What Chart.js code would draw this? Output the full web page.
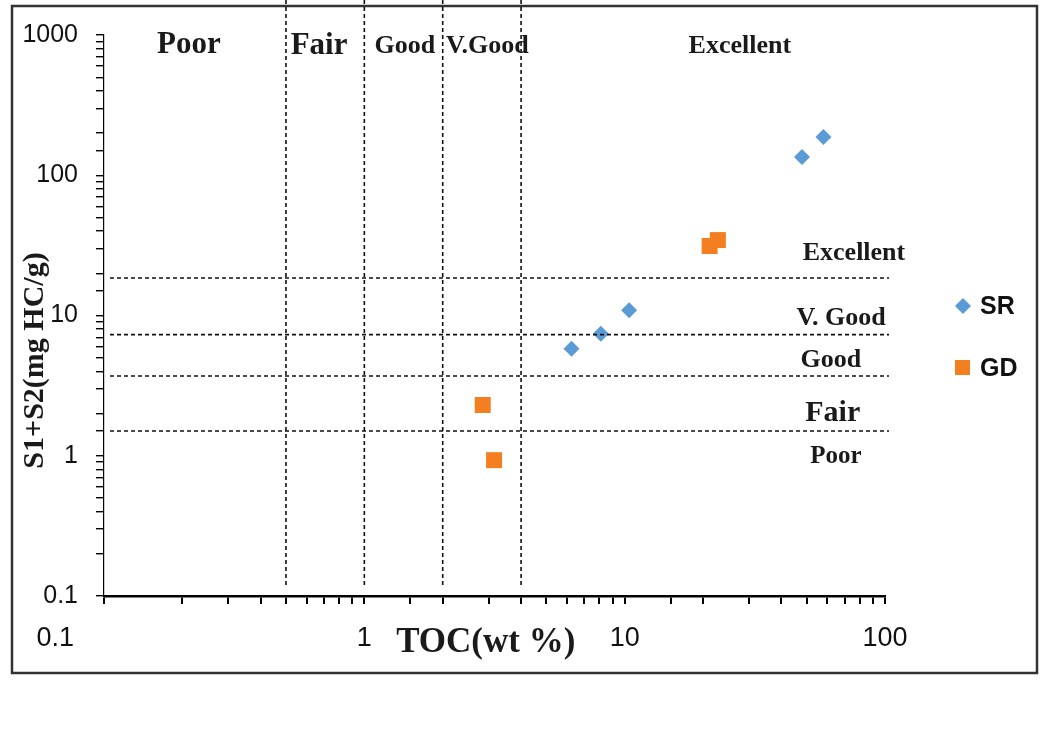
<!DOCTYPE html>
<html>
<head>
<meta charset="utf-8">
<script src="https://cdn.jsdelivr.net/npm/chart.js@4.4.1/dist/chart.umd.min.js"></script>
<style>
html,body{margin:0;padding:0;background:#fff}
</style>
</head>
<body>
<canvas id="rockEval" width="1051" height="740"></canvas>
<script>
//muestras SR: TOC (wt %) y S1+S2 (mg HC/g)
const srToc = [6.25, 8.1, 10.4, 48, 58]
const srS1S2 = [5.8, 7.4, 10.9, 135, 187]

//muestras GD
const gdToc = [21.2, 22.8, 2.85, 3.15]
const gdS1S2 = [31.3, 34.5, 2.3, 0.93]

//limites de calidad tal como estan dibujados
const tocLimits = [0.5, 1, 2, 4]
const s1s2Limits = [18.5, 7.3, 3.7, 1.5]

//etiquetas de los ejes
const xTickLabels = ['0.1', '1', '10', '100']
const yTickLabels = ['0.1', '1', '10', '100', '1000']

//nombres de las zonas
const tocZoneNames = ['Poor', 'Fair', 'Good', 'V.Good', 'Excellent']
const s1s2ZoneNames = ['Excellent', 'V. Good', 'Good', 'Fair', 'Poor']

//donde va cada nombre (en unidades de los ejes) y su tamaño
const tocZoneSpots = [
    {x: 0.212, y: 850, size: 31},
    {x: 0.67, y: 830, size: 31},
    {x: 1.43, y: 830, size: 26},
    {x: 2.97, y: 830, size: 26},
    {x: 27.7, y: 830, size: 26}
]
const s1s2ZoneSpots = [
    {x: 76, y: 27.9, size: 26},
    {x: 67.8, y: 9.6, size: 26},
    {x: 62, y: 4.82, size: 26},
    {x: 63, y: 2.02, size: 30},
    {x: 64.8, y: 0.98, size: 25}
]

const blue = '#5b9bd5'
const orange = '#f37f21'

function toPoints(xs, ys){
    return xs.map((v, i) => ({x: v, y: ys[i]}))
}

//plugin: marco, lineas de limites, nombres de zonas y leyenda
const zonesPlugin = {
    id: 'zones',
    beforeDraw(chart){
        const ctx = chart.ctx
        ctx.save()
        ctx.strokeStyle = '#333'
        ctx.lineWidth = 2.5
        ctx.strokeRect(12, 6, 1025, 667)
        ctx.restore()
    },
    afterDatasetsDraw(chart){
        const {ctx, chartArea, scales: {x, y}} = chart
        ctx.save()
        ctx.strokeStyle = '#111'
        ctx.lineWidth = 1.6
        ctx.setLineDash([4, 3])
        tocLimits.forEach(v => {
            const px = x.getPixelForValue(v)
            ctx.beginPath()
            ctx.moveTo(px, 0)
            ctx.lineTo(px, chartArea.bottom - 8)
            ctx.stroke()
        })
        s1s2Limits.forEach(v => {
            const py = y.getPixelForValue(v)
            ctx.beginPath()
            ctx.moveTo(chartArea.left + 6, py)
            ctx.lineTo(chartArea.right + 4, py)
            ctx.stroke()
        })
        ctx.setLineDash([])

        ctx.fillStyle = '#1a1a1a'
        ctx.textAlign = 'center'
        ctx.textBaseline = 'middle'
        tocZoneNames.forEach((name, i) => {
            const s = tocZoneSpots[i]
            ctx.font = `bold ${s.size}px "Liberation Serif", "Times New Roman", serif`
            ctx.fillText(name, x.getPixelForValue(s.x), y.getPixelForValue(s.y))
        })
        s1s2ZoneNames.forEach((name, i) => {
            const s = s1s2ZoneSpots[i]
            ctx.font = `bold ${s.size}px "Liberation Serif", "Times New Roman", serif`
            ctx.fillText(name, x.getPixelForValue(s.x), y.getPixelForValue(s.y))
        })

        //leyenda a mano a la derecha
        const legendX = 963
        const sets = chart.data.datasets
        ctx.font = 'bold 25px "Liberation Sans", Arial, sans-serif'
        ctx.textAlign = 'left'
        //SR rombo
        ctx.fillStyle = sets[0].backgroundColor
        ctx.beginPath()
        ctx.moveTo(legendX, 298)
        ctx.lineTo(legendX + 8, 306)
        ctx.lineTo(legendX, 314)
        ctx.lineTo(legendX - 8, 306)
        ctx.closePath()
        ctx.fill()
        //GD cuadrado
        ctx.fillStyle = sets[1].backgroundColor
        ctx.fillRect(legendX - 8, 360, 15, 15)
        ctx.fillStyle = '#111'
        ctx.fillText(sets[0].label, 980, 307)
        ctx.fillText(sets[1].label, 980, 369)
        ctx.restore()
    }
}

let chart

function createChart(){
    const ctx = document.getElementById('rockEval').getContext('2d')
    if(chart){
        chart.destroy()
    }
    chart = new Chart(ctx, {
        type: 'scatter',
        data: {
            datasets: [
                {
                    label: 'SR',
                    data: toPoints(srToc, srS1S2),
                    backgroundColor: blue,
                    borderColor: blue,
                    borderWidth: 0,
                    pointStyle: 'rectRot',
                    pointRadius: 8
                },
                {
                    label: 'GD',
                    data: toPoints(gdToc, gdS1S2),
                    backgroundColor: orange,
                    borderColor: orange,
                    borderWidth: 0,
                    pointStyle: 'rect',
                    pointRadius: 11.3
                }
            ]
        },
        options: {
            responsive: false,
            animation: false,
            layout: {padding: {left: 0, top: 35, right: 166, bottom: 66}},
            plugins: {
                legend: {display: false},
                tooltip: {enabled: false}
            },
            scales: {
                x: {
                    type: 'logarithmic',
                    min: 0.1,
                    max: 100,
                    afterFit: s => { s.height = 78 },
                    border: {color: '#000', width: 2.5},
                    grid: {drawOnChartArea: false, drawTicks: true, tickLength: 8, tickColor: '#000', lineWidth: 2},
                    ticks: {
                        autoSkip: false,
                        maxRotation: 0,
                        padding: 18,
                        color: '#111',
                        font: {family: '"Liberation Sans Narrow", "Liberation Sans", Arial', size: 27},
                        callback: v => {
                            const t = String(v)
                            if(!xTickLabels.includes(t)) return ''
                            //el 0.1 esta corrido a la izquierda en el original
                            return t === '0.1' ? t + ' '.repeat(13) : t
                        }
                    },
                    title: {
                        display: true,
                        text: 'TOC(wt %)  ',
                        color: '#1a1a1a',
                        font: {family: '"Liberation Serif", "Times New Roman", serif', weight: 'bold', size: 35},
                        padding: {top: 0, bottom: 10}
                    }
                },
                y: {
                    type: 'logarithmic',
                    min: 0.1,
                    max: 1000,
                    afterFit: s => { s.width = 104 },
                    border: {color: '#000', width: 1.2},
                    grid: {drawOnChartArea: false, drawTicks: true, tickLength: 8, tickColor: '#000', lineWidth: 1.4},
                    ticks: {
                        autoSkip: false,
                        padding: 18,
                        color: '#111',
                        font: {family: '"Liberation Sans", Arial', size: 25},
                        callback: v => yTickLabels.includes(String(v)) ? String(v) : ''
                    },
                    title: {
                        display: true,
                        text: 'S1+S2(mg HC/g)' + ' '.repeat(12),
                        color: '#1a1a1a',
                        font: {family: '"Liberation Serif", "Times New Roman", serif', weight: 'bold', size: 30},
                        padding: {top: 17, bottom: 0}
                    }
                }
            }
        },
        plugins: [zonesPlugin]
    })
}

createChart()
</script>
</body>
</html>
